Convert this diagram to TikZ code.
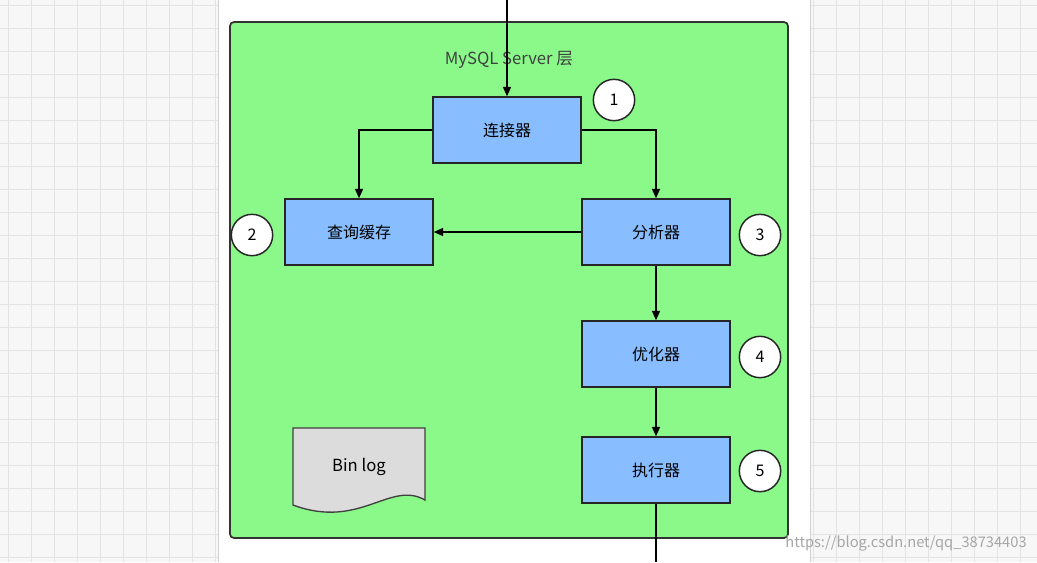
\documentclass[tikz,border=0pt]{standalone}
\usepackage{fontspec}
\setmainfont{Noto Sans CJK SC}
\usetikzlibrary{arrows.meta}
\definecolor{gbg}{HTML}{8AF98A}
\definecolor{bx}{HTML}{88BEFF}
\definecolor{doc}{HTML}{DCDCDC}
\begin{document}
\begin{tikzpicture}[x=0.75pt,y=-0.75pt,
  box/.style={draw=black!85,line width=1.1pt,fill=bx,minimum width=111pt,minimum height=49.5pt,inner sep=0pt,font=\fontsize{12}{14}\selectfont},
  num/.style={circle,draw=black!85,line width=1.1pt,fill=white,minimum size=31pt,inner sep=0pt,font=\fontsize{12}{14}\selectfont},
  arr/.style={line width=1.1pt,-{Triangle[length=7pt,width=6pt]}}]
\useasboundingbox (0,0) rectangle (1037,562);
\fill[gray!6] (0,0) rectangle (1037,562);
\foreach \i in {0,...,45} {\draw[gray!22,line width=0.5pt] (\i*23+8,0) -- (\i*23+8,562);}
\foreach \j in {0,...,24} {\draw[gray!22,line width=0.5pt] (0,\j*23+5) -- (1037,\j*23+5);}
\fill[white] (218,0) rectangle (810,562);
\draw[gray!35] (218,0) -- (218,562) (810,0) -- (810,562);
\draw[black!80,line width=1.3pt,fill=gbg,rounded corners=3pt] (230,22) rectangle (788,538);
\node[font=\fontsize{12.5}{14}\selectfont,text=black!75] (title) at (509,60) {MySQL Server 层};
\node[box] (c) at (507,130) {连接器};
\node[box] (q) at (359,232) {查询缓存};
\node[box] (a) at (656,232) {分析器};
\node[box] (o) at (656,354) {优化器};
\node[box] (e) at (656,470) {执行器};
\node[num] (n1) at (614,100) {1};
\node[num] (n2) at (252,235) {2};
\node[num] (n3) at (760,235) {3};
\node[num] (n4) at (760,357) {4};
\node[num] (n5) at (760,471) {5};
\draw[black!75,line width=1pt,fill=doc] (293,428) -- (425,428) -- (425,500)
  .. controls (390,480) and (360,530) .. (293,505) -- cycle;
\node[font=\fontsize{12.5}{14}\selectfont] (bin) at (359,467) {Bin log};
\coordinate (top) at (507,0);
\coordinate (bot) at (656,562);
\draw[arr] (top) -- (c);
\draw[arr] (c.west) -| (q.north);
\draw[arr] (c.east) -| (a.north);
\draw[arr] (a.west) -- (q.east);
\draw[arr] (a) -- (o);
\draw[arr] (o) -- (e);
\draw[line width=1.1pt] (e.south) -- (bot);
\node[text=gray!70,font=\fontsize{11}{13}\selectfont] (wm) at (906,543) {https://blog.csdn.net/qq\_38734403};
\end{tikzpicture}
\end{document}
